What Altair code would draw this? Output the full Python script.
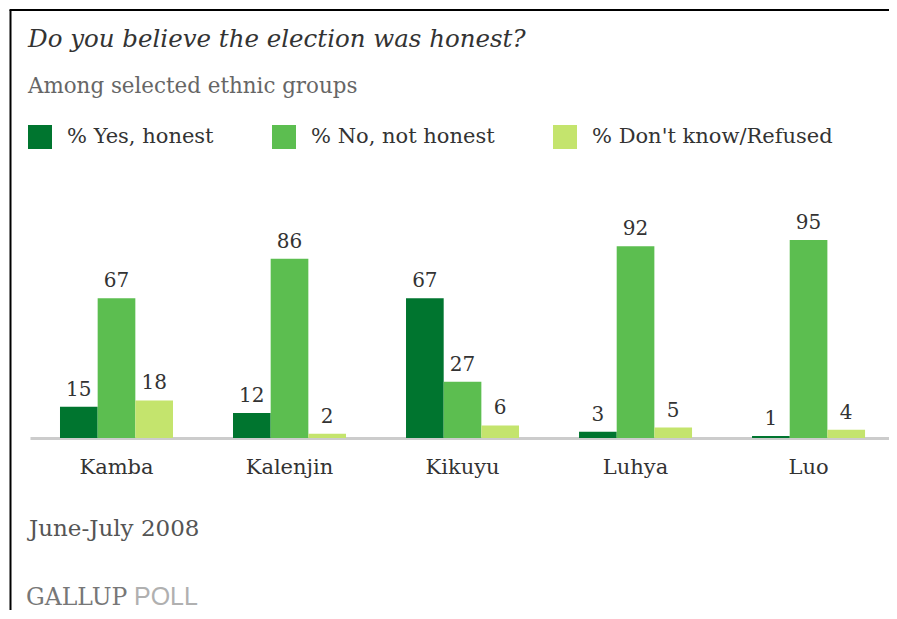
import altair as alt
import pandas as pd

groups = ["Kamba", "Kalenjin", "Kikuyu", "Luhya", "Luo"]
responses = ["% Yes, honest", "% No, not honest", "% Don't know/Refused"]
yes_vals = [15, 12, 67, 3, 1]
no_vals = [67, 86, 27, 92, 95]
dk_vals = [18, 2, 6, 5, 4]
colors = ["#00752f", "#5cbe50", "#c4e46d"]

title_text = "Do you believe the election was honest?"
subtitle_text = "Among selected ethnic groups"
date_text = "June-July 2008"

rows = []
for i, g in enumerate(groups):
    for r, vals in zip(responses, [yes_vals, no_vals, dk_vals]):
        rows.append({"group": g, "response": r, "value": vals[i]})
df = pd.DataFrame(rows)

SERIF = "DejaVu Serif"
W, H = 859, 208.5

x_enc = alt.X(
    "group:N", sort=groups,
    scale=alt.Scale(paddingInner=0.3468, paddingOuter=0.1559, align=0.556),
    axis=alt.Axis(title=None, labelAngle=0, ticks=False, domainColor="#cccccc",
                  domainWidth=3, labelFont=SERIF, labelFontSize=21,
                  labelColor="#333333", labelPadding=18, grid=False),
)
xoff = alt.XOffset("response:N", sort=responses,
                   scale=alt.Scale(paddingInner=0, paddingOuter=0))
y_enc = alt.Y("value:Q", scale=alt.Scale(domain=[0, 100]), axis=None)

base = alt.Chart(df)
bars = base.mark_bar().encode(
    x=x_enc, xOffset=xoff, y=y_enc,
    color=alt.Color(
        "response:N", sort=responses,
        scale=alt.Scale(domain=responses, range=colors),
        legend=alt.Legend(orient="none", legendX=-2, legendY=-104.5,
                          direction="horizontal", title=None,
                          symbolType="square", symbolSize=576,
                          symbolStrokeWidth=0, symbolOpacity=1,
                          labelFont=SERIF, labelFontSize=21, labelLimit=400,
                          labelColor="#333333", columnPadding=58,
                          labelOffset=15, padding=0),
    ),
)
labels = base.mark_text(dy=-11, baseline="alphabetic", font=SERIF, fontSize=20,
                        color="#333333").encode(
    x=x_enc, xOffset=xoff, y=y_enc, text="value:Q")

one = pd.DataFrame({"k": [0]})
ann = alt.Chart(one)
title = ann.mark_text(align="left", baseline="alphabetic", font=SERIF,
                      fontSize=24.5, fontStyle="italic", color="#333333").encode(
    x=alt.value(-2), y=alt.value(-182.5), text=alt.value(title_text))
subtitle = ann.mark_text(align="left", baseline="alphabetic", font=SERIF,
                         fontSize=21.4, color="#666666").encode(
    x=alt.value(-2), y=alt.value(-136.5), text=alt.value(subtitle_text))
date = ann.mark_text(align="left", baseline="alphabetic", font=SERIF,
                     fontSize=23, color="#555555").encode(
    x=alt.value(-1), y=alt.value(306.5), text=alt.value(date_text))
gallup = ann.mark_text(align="left", baseline="alphabetic", font=SERIF,
                       fontSize=23.5, color="#777777").encode(
    x=alt.value(-4), y=alt.value(375), text=alt.value("GALLUP"))
poll = ann.mark_text(align="left", baseline="alphabetic", font="Liberation Sans",
                     fontSize=25, color="#b0b0b0").encode(
    x=alt.value(104), y=alt.value(375), text=alt.value("POLL"))
border_left = ann.mark_rule(color="black", strokeWidth=2).encode(
    x=alt.value(-19.5), y=alt.value(-219.5), y2=alt.value(400))
border_top = ann.mark_rule(color="black", strokeWidth=2).encode(
    x=alt.value(-20.5), x2=alt.value(880), y=alt.value(-219.5))

chart = alt.layer(bars, labels, title, subtitle, date, gallup, poll,
                  border_left, border_top).properties(
    width=W, height=H,
    autosize="none",
    padding={"left": 22, "top": 221.5, "right": 0, "bottom": 172},
).configure_view(stroke=None)

chart.save("out.html", embed_options={"renderer": "svg", "actions": False})
